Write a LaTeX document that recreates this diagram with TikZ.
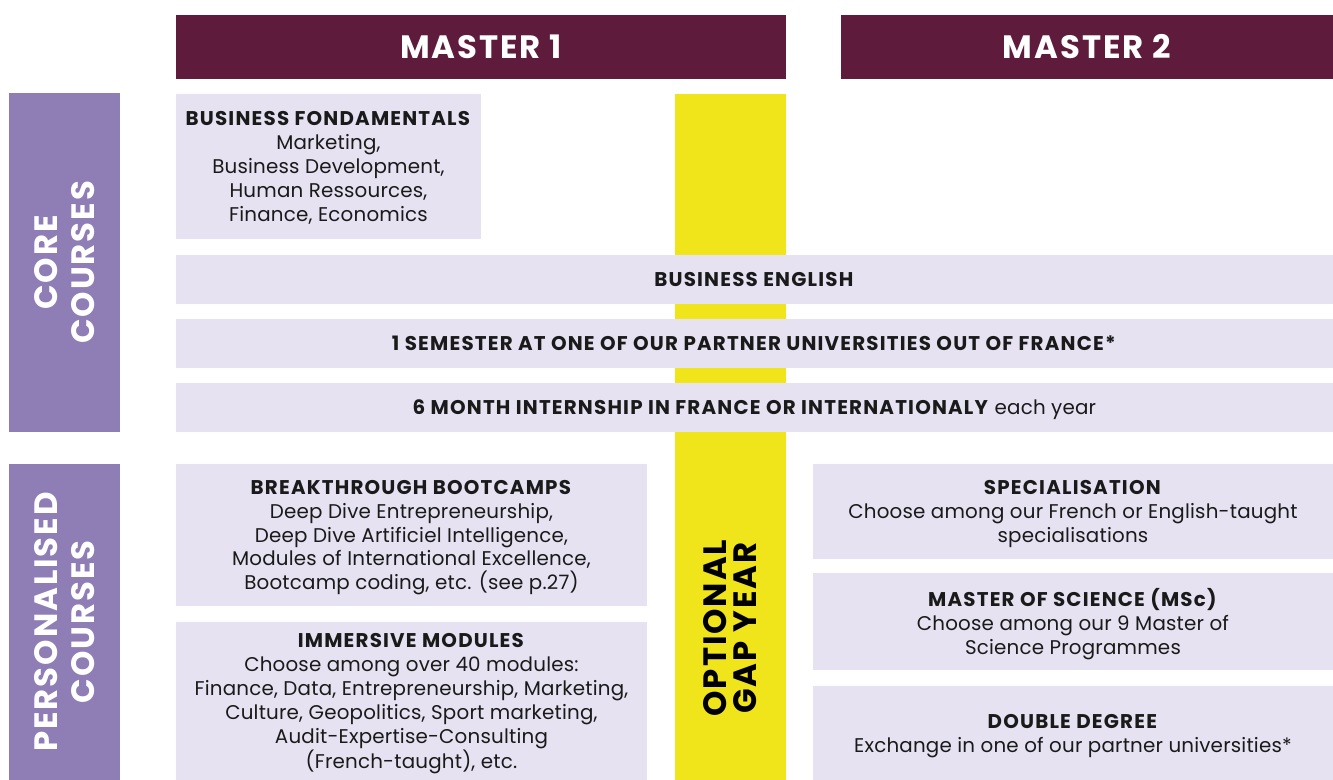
\documentclass[tikz,border=0pt]{standalone}
\usepackage{fontspec}
\setmainfont{Poppins}[LetterSpace=1, BoldFeatures={LetterSpace=6}]
\usepackage{xcolor}
\usepackage{tikz}

\definecolor{maroon}{HTML}{5F1B3C}
\definecolor{lilac}{HTML}{8F7DB6}
\definecolor{pale}{HTML}{E6E2F2}
\definecolor{gapyellow}{HTML}{F0E41A}
\definecolor{ink}{HTML}{1A1A1A}

\begin{document}
\begin{tikzpicture}[x=0.02cm, y=-0.02cm,
  every node/.style={inner sep=0pt, outer sep=0pt, anchor=north west},
  head/.style={fill=maroon, text=white, font=\fontsize{18.4}{20}\selectfont\bfseries},
  side/.style={fill=lilac},
  sidetext/.style={anchor=center, rotate=90, text=white, align=center,
    font=\fontsize{18.4}{21}\selectfont\bfseries},
  course/.style={fill=pale, text=ink, align=center, text depth=0pt,
    font=\fontsize{11.3}{13.6}\selectfont}
]

\useasboundingbox (0,0) rectangle (1333,780);

% year headers
\node[head, minimum width=122mm, minimum height=12.8mm] (m1) at (176,15) {MASTER 1};
\node[head, minimum width=98.4mm, minimum height=12.8mm] (m2) at (841,15) {MASTER 2};

% left side bands
\node[side, minimum width=22.2mm, minimum height=67.8mm] (core) at (9,93) {};
\node[sidetext] (coretxt) at (core.center) {CORE\\COURSES};
\node[side, minimum width=22.2mm, minimum height=63.2mm] (perso) at (9,464) {};
\node[sidetext] (persotxt) at (perso.center) {PERSONALISED\\COURSES};

% gap year
\node[fill=gapyellow, minimum width=22.2mm, minimum height=137.2mm] (gap) at (675,94) {};
\node[sidetext, text=black, font=\fontsize{18.4}{17}\selectfont\bfseries] (gaptxt) at (730,628) {OPTIONAL\\GAP YEAR};

% core courses
\node[course, minimum width=61mm, minimum height=29mm] (fund) at (176,94)
  {\textbf{BUSINESS FONDAMENTALS}\\Marketing,\\Business Development,\\Human Ressources,\\Finance, Economics};
\node[course, minimum width=231.4mm, minimum height=9.8mm] (english) at (176,255)
  {\textbf{BUSINESS ENGLISH}};
\node[course, minimum width=231.4mm, minimum height=9.8mm] (abroad) at (176,319)
  {\textbf{1 SEMESTER AT ONE OF OUR PARTNER UNIVERSITIES OUT OF FRANCE*}};
\node[course, minimum width=231.4mm, minimum height=9.8mm] (intern) at (176,383)
  {\textbf{6 MONTH INTERNSHIP IN FRANCE OR INTERNATIONALY} each year};

% personalised courses, master 1
\node[course, minimum width=94.2mm, minimum height=28.4mm] (boot) at (176,464)
  {\textbf{BREAKTHROUGH BOOTCAMPS}\\Deep Dive Entrepreneurship,\\Deep Dive Artificiel Intelligence,\\Modules of International Excellence,\\Bootcamp coding, etc. (see p.27)};
\node[course, minimum width=94.2mm, minimum height=31.6mm] (immersive) at (176,622)
  {\textbf{IMMERSIVE MODULES}\\Choose among over 40 modules:\\Finance, Data, Entrepreneurship, Marketing,\\Culture, Geopolitics, Sport marketing,\\Audit-Expertise-Consulting\\(French-taught), etc.};

% personalised courses, master 2
\node[course, minimum width=104mm, minimum height=19mm] (spec) at (813,464)
  {\textbf{SPECIALISATION}\\Choose among our French or English-taught\\specialisations};
\node[course, minimum width=104mm, minimum height=19.4mm] (msc) at (813,573)
  {\textbf{MASTER OF SCIENCE (MSc)}\\Choose among our 9 Master of\\Science Programmes};
\node[course, minimum width=104mm, minimum height=18.8mm] (double) at (813,686)
  {\textbf{DOUBLE DEGREE}\\Exchange in one of our partner universities*};

\end{tikzpicture}
\end{document}
